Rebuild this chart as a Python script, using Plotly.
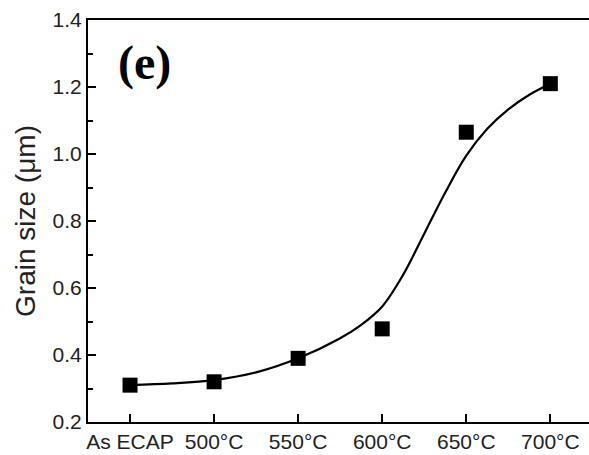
import plotly.graph_objects as go

# Annealing conditions and measured grain sizes
categories = ["As ECAP", "500°C", "550°C", "600°C", "650°C", "700°C"]
grain_size = [0.31, 0.32, 0.39, 0.478, 1.065, 1.21]

# Fitted trend curve, sampled along the category index
fit_pos = [0, 0.5, 1, 1.5, 2, 2.5, 2.75, 3, 3.25, 3.5, 3.75, 4, 4.25, 4.5, 4.75, 5]
fit_val = [0.310, 0.315, 0.325, 0.348, 0.390, 0.450, 0.490, 0.545, 0.640, 0.762,
           0.885, 0.995, 1.075, 1.133, 1.177, 1.210]

y_ticks = [0.2, 0.4, 0.6, 0.8, 1.0, 1.2, 1.4]

pos = list(range(len(categories)))

fig = go.Figure()
fig.add_trace(go.Scatter(
    x=fit_pos, y=fit_val, mode="lines",
    line=dict(color="black", width=2.2, shape="spline", smoothing=1.0),
    showlegend=False, hoverinfo="skip",
))
fig.add_trace(go.Scatter(
    x=pos, y=grain_size, mode="markers",
    marker=dict(symbol="square", size=15, color="black"),
    showlegend=False,
))

fig.add_annotation(
    x=0.113, y=0.965, xref="paper", yref="paper",
    xanchor="center", yanchor="top",
    text="<b>(e)</b>", showarrow=False,
    font=dict(family="Liberation Serif", size=48, color="black"),
)

fig.update_layout(
    width=589, height=455,
    margin=dict(l=88, r=0, t=20, b=33),
    plot_bgcolor="white", paper_bgcolor="white",
    font=dict(family="Liberation Sans", size=21, color="#222"),
)
fig.update_xaxes(
    range=[-0.5, 5.46], tickvals=pos, ticktext=categories,
    showgrid=False, zeroline=False,
    showline=True, linecolor="black", linewidth=2, mirror=True,
    ticks="inside", ticklen=8, tickwidth=1.5, tickcolor="black",
    tickfont=dict(family="Liberation Sans", size=21, color="#222"),
)
fig.update_yaxes(
    range=[0.2, 1.4], tickvals=y_ticks, ticktext=[f"{v:.1f}" for v in y_ticks],
    showgrid=False, zeroline=False,
    showline=True, linecolor="black", linewidth=2,
    ticks="inside", ticklen=8, tickwidth=1.5, tickcolor="black",
    minor=dict(dtick=0.1, ticks="inside", ticklen=5, tickwidth=1.5, tickcolor="black", showgrid=False),
    tickfont=dict(family="Liberation Sans", size=21, color="#222"),
    title=dict(text="Grain size (μm)", font=dict(family="Liberation Sans", size=28, color="#222"), standoff=9),
)

fig.write_html("out.html")
